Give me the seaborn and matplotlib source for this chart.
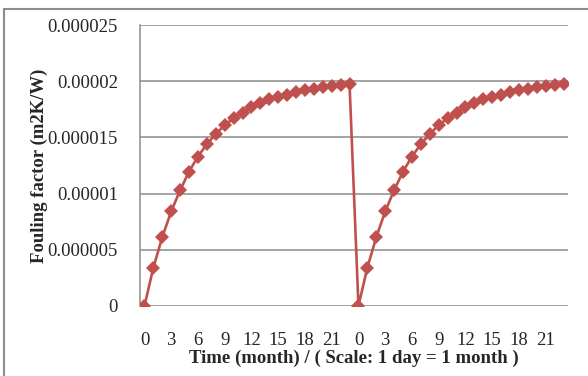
### Fouling factor over two cleaning cycles
import pandas as pd
import numpy as np
import matplotlib
matplotlib.use("Agg")
import matplotlib.pyplot as plt
from matplotlib.patches import Rectangle
import seaborn as sns

# Months within one cycle (0..23), two cycles shown back to back
months = list(range(24))

# Fouling factor (m2K/W), first cycle
cycle1 = [0, 3.42e-6, 6.13e-6, 8.42e-6, 1.03e-5, 1.196e-5, 1.33e-5, 1.44e-5,
          1.53e-5, 1.61e-5, 1.67e-5, 1.72e-5, 1.77e-5, 1.81e-5, 1.84e-5, 1.86e-5,
          1.88e-5, 1.90e-5, 1.92e-5, 1.935e-5, 1.945e-5, 1.955e-5, 1.965e-5, 1.975e-5]
# second cycle (after cleaning) reads the same
cycle2 = [0, 3.42e-6, 6.13e-6, 8.42e-6, 1.03e-5, 1.196e-5, 1.33e-5, 1.44e-5,
          1.53e-5, 1.61e-5, 1.67e-5, 1.72e-5, 1.77e-5, 1.81e-5, 1.84e-5, 1.86e-5,
          1.88e-5, 1.90e-5, 1.92e-5, 1.935e-5, 1.945e-5, 1.955e-5, 1.965e-5, 1.975e-5]

y_ticks = [0, 0.000005, 0.00001, 0.000015, 0.00002, 0.000025]
y_ticklabels = ["0", "0.000005", "0.00001", "0.000015", "0.00002", "0.000025"]

df = pd.DataFrame({
    "pos": np.arange(len(cycle1) + len(cycle2)),
    "month": months + months,
    "fouling": cycle1 + cycle2,
})

sns.set_style("white")
plt.rcParams["font.family"] = ["Liberation Serif", "DejaVu Serif"]

fig = plt.figure(figsize=(5.88, 3.76), dpi=100)
ax = fig.add_axes([140 / 588, 1 - 306 / 376, 428 / 588, 281 / 376])

sns.lineplot(data=df, x="pos", y="fouling", ax=ax, color="#C0504D",
             linewidth=1.9, marker="D", markersize=7.5, markeredgewidth=0,
             zorder=3)

ax.set_xlim(-0.5, len(df) - 0.5)
ax.set_ylim(0, 0.000025)
ax.set_yticks(y_ticks)
ax.set_yticklabels(y_ticklabels, fontsize=13.5)
tick_pos = df["pos"][df["month"] % 3 == 0]
ax.set_xticks(tick_pos)
ax.set_xticklabels(df["month"][df["month"] % 3 == 0], fontsize=13.5)
ax.tick_params(axis="x", length=0, pad=19)
ax.tick_params(axis="y", length=0, pad=16)

ax.grid(axis="y", color="#8c8c8c", linewidth=1.1)
ax.set_axisbelow(True)
for s in ["top", "right", "bottom"]:
    ax.spines[s].set_visible(False)
ax.spines["left"].set_color("#8c8c8c")
ax.spines["left"].set_linewidth(1.1)

ax.set_xlabel("Time (month) / ( Scale: 1 day = 1 month )", fontsize=13.5,
              fontweight="bold", labelpad=0)
ax.set_ylabel("Fouling factor (m2K/W)", fontsize=13.5, fontweight="bold",
              labelpad=-0.5)

# outer chart frame
fig.add_artist(Rectangle((4 / 588, -0.1), 1.2, 1 - 9 / 376 + 0.1,
                         transform=fig.transFigure, fill=False,
                         edgecolor="#8c8c8c", linewidth=1.5))

fig.savefig("out.png", dpi=100)
